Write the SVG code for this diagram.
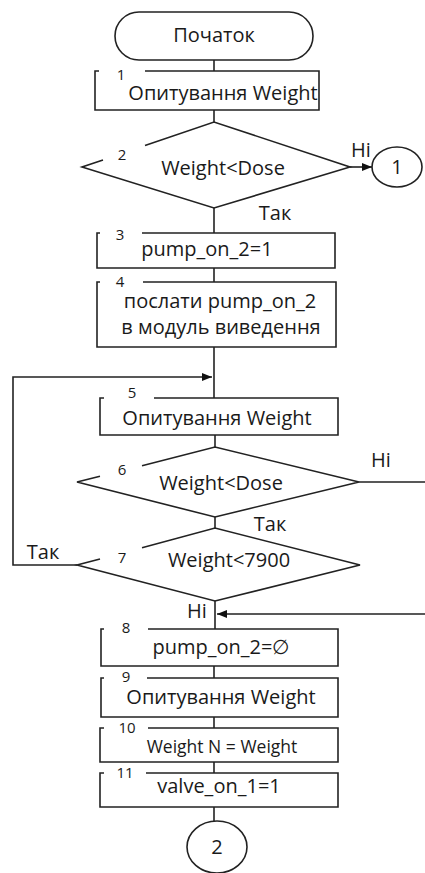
<svg xmlns="http://www.w3.org/2000/svg" width="425" height="873" viewBox="0 0 425 873">
<defs>
<style>
.ln{fill:none;stroke:#222;stroke-width:1.6}
.t{font-family:"Open Sans","Liberation Sans",sans-serif;font-size:20px;fill:#1a1a1a;text-anchor:middle}
.n{font-family:"Open Sans","Liberation Sans",sans-serif;font-size:15px;fill:#1a1a1a;text-anchor:middle}
</style>
<marker id="ah" markerWidth="10" markerHeight="8" refX="10" refY="4" orient="auto" markerUnits="userSpaceOnUse">
<path d="M0,0 L10,4 L0,8 Z" fill="#111"/>
</marker>
</defs>
<rect width="425" height="873" fill="#fff"/>
<g id="connectors" class="ln">
<path d="M214,60 V71"/>
<path d="M214,110 V122"/>
<path d="M214,208 V233"/>
<path d="M214,268 V282"/>
<path d="M214,347 V398"/>
<path d="M215,435 V447"/>
<path d="M215,517 V528"/>
<path d="M215,601 V629"/>
<path d="M214,666 V678"/>
<path d="M214,717 V728"/>
<path d="M214,762 V773"/>
<path d="M214,807 V821"/>
<path d="M350,167 H372" marker-end="url(#ah)"/>
<path d="M77,565 H13 V377 H212" marker-end="url(#ah)"/>
<path d="M359,482 H427 V614 H217" marker-end="url(#ah)"/>
</g>
<g id="start">
<rect class="ln" x="115" y="12" width="198" height="48" rx="24"/>
<text class="t" x="214" y="42">Початок</text>
</g>
<g id="n1">
<path class="ln" d="M99,71 H95 V110 H319 V71 H145"/>
<text class="n" x="121" y="80">1</text>
<text class="t" x="223" y="100">Опитування Weight</text>
</g>
<g id="n2">
<path class="ln" d="M145,145.5 L214,122 L350,167 L214,208 L82,167 L103,160"/>
<text class="n" x="122" y="160">2</text>
<text class="t" x="223" y="175">Weight&lt;Dose</text>
<text class="t" x="361" y="157">Ні</text>
<text class="t" x="275" y="220">Так</text>
</g>
<g id="c1">
<ellipse class="ln" cx="397" cy="167" rx="25" ry="20"/>
<text class="t" x="397" y="174">1</text>
</g>
<g id="n3">
<path class="ln" d="M100,233 H97 V268 H335 V233 H142"/>
<text class="n" x="120" y="240">3</text>
<text class="t" x="207" y="256">pump_on_2=1</text>
</g>
<g id="n4">
<path class="ln" d="M100,282 H97 V347 H336 V282 H143"/>
<text class="n" x="120" y="287">4</text>
<text class="t" x="220" y="308">послати pump_on_2</text>
<text class="t" x="221" y="334">в модуль виведення</text>
</g>
<g id="n5">
<path class="ln" d="M104,398 H100 V435 H338 V398 H154"/>
<text class="n" x="132" y="398">5</text>
<text class="t" x="217" y="425">Опитування  Weight</text>
</g>
<g id="n6">
<path class="ln" d="M142,465.75 L215,447 L359,482 L215,517 L77,482 L100,476.25"/>
<text class="n" x="122" y="475">6</text>
<text class="t" x="221" y="490">Weight&lt;Dose</text>
<text class="t" x="381" y="467">Ні</text>
<text class="t" x="270" y="531">Так</text>
</g>
<g id="n7">
<path class="ln" d="M142,547.8 L215,528 L360,565 L215,601 L77,565 L100,558.9"/>
<text class="n" x="122" y="563">7</text>
<text class="t" x="229" y="567">Weight&lt;7900</text>
<text class="t" x="43" y="559">Так</text>
<text class="t" x="197" y="618">Ні</text>
</g>
<g id="n8">
<path class="ln" d="M104,629 H101 V666 H338 V629 H148"/>
<text class="n" x="126" y="633">8</text>
<text class="t" x="221" y="654">pump_on_2=∅</text>
</g>
<g id="n9">
<path class="ln" d="M104,678 H101 V717 H338 V678 H147"/>
<text class="n" x="126" y="682">9</text>
<text class="t" x="221" y="704">Опитування Weight</text>
</g>
<g id="n10">
<path class="ln" d="M104,728 H100 V762 H338 V728 H148"/>
<text class="n" x="127" y="733">10</text>
<text class="t" x="222" y="753" style="font-size:17.5px">Weight N = Weight</text>
</g>
<g id="n11">
<path class="ln" d="M104,773 H100 V807 H338 V773 H146"/>
<text class="n" x="125" y="778">11</text>
<text class="t" x="219" y="793">valve_on_1=1</text>
</g>
<g id="c2">
<ellipse class="ln" cx="217" cy="847" rx="30" ry="26"/>
<text class="t" x="217" y="854">2</text>
</g>
</svg>
